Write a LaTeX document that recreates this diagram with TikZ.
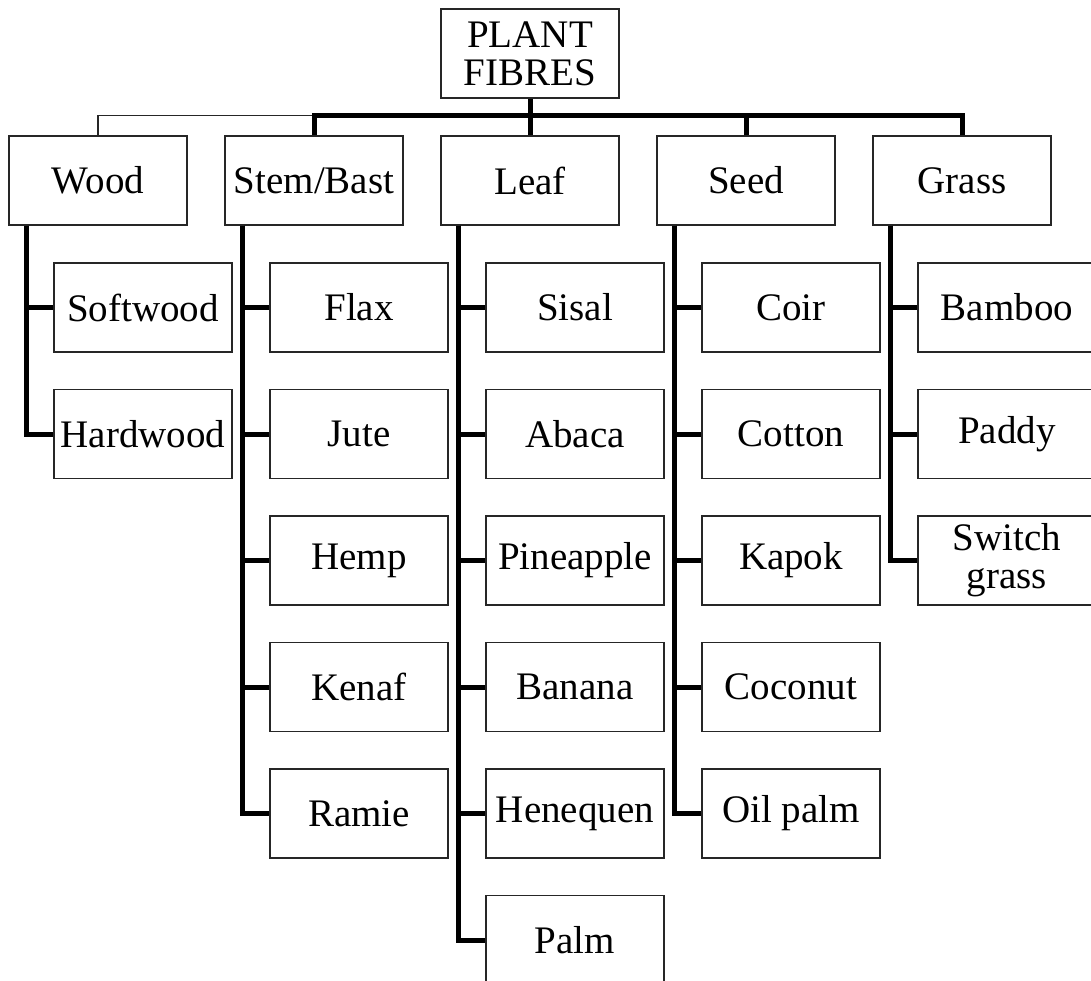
\documentclass[tikz,border=0pt]{standalone}
\usepackage{fontspec}
\setmainfont{Liberation Serif}
\usetikzlibrary{calc}
\begin{document}
\begin{tikzpicture}[x=1pt,y=-1pt,
  box/.style={draw=black!85, line width=1.4pt, minimum width=178pt, minimum height=89pt, inner sep=0pt, align=center,
    font=\fontsize{39}{38}\selectfont},
  trunk/.style={line width=5pt, black},
  thin/.style={line width=1.4pt, black!85}]
\useasboundingbox (0,0) rectangle (1091,980);
% root
\node[box] (root) at (530,53.5) {PLANT\\FIBRES};
% categories
\node[box] (wood) at (98,180.5) {Wood};
\node[box] (stem) at (314,180.5) {Stem/Bast};
\node[box] (leaf) at (530,180.5) {Leaf};
\node[box] (seed) at (746,180.5) {Seed};
\node[box] (grass) at (962,180.5) {Grass};
% children
\node[box] (softwood) at (143,307.5) {Softwood};
\node[box] (hardwood) at (143,434) {Hardwood};
\node[box] (flax) at (359,307.5) {Flax};
\node[box] (jute) at (359,434) {Jute};
\node[box] (hemp) at (359,560.5) {Hemp};
\node[box] (kenaf) at (359,687) {Kenaf};
\node[box] (ramie) at (359,813.5) {Ramie};
\node[box] (sisal) at (575,307.5) {Sisal};
\node[box] (abaca) at (575,434) {Abaca};
\node[box] (pineapple) at (575,560.5) {Pineapple};
\node[box] (banana) at (575,687) {Banana};
\node[box] (henequen) at (575,813.5) {Henequen};
\node[box] (palm) at (575,940) {Palm};
\node[box] (coir) at (791,307.5) {Coir};
\node[box] (cotton) at (791,434) {Cotton};
\node[box] (kapok) at (791,560.5) {Kapok};
\node[box] (coconut) at (791,687) {Coconut};
\node[box] (oilpalm) at (791,813.5) {Oil palm};
\node[box] (bamboo) at (1007,307.5) {Bamboo};
\node[box] (paddy) at (1007,434) {Paddy};
\node[box] (switch) at (1007,560.5) {Switch\\grass};
% top connectors
\draw[thin] (stem.north) ++(0,-20) -| (wood.north);
\draw[trunk] (stem.north) -- ++(0,-20) -| (grass.north);
\draw[trunk] (root.south) -- (leaf.north);
\draw[trunk] (seed.north) -- ++(0,-20);
% branches
\foreach \c in {softwood,hardwood}
  \draw[trunk] ([xshift=18pt]wood.south west) |- (\c.west);
\foreach \c in {flax,jute,hemp,kenaf,ramie}
  \draw[trunk] ([xshift=18pt]stem.south west) |- (\c.west);
\foreach \c in {sisal,abaca,pineapple,banana,henequen,palm}
  \draw[trunk] ([xshift=18pt]leaf.south west) |- (\c.west);
\foreach \c in {coir,cotton,kapok,coconut,oilpalm}
  \draw[trunk] ([xshift=18pt]seed.south west) |- (\c.west);
\foreach \c in {bamboo,paddy,switch}
  \draw[trunk] ([xshift=18pt]grass.south west) |- (\c.west);
\end{tikzpicture}
\end{document}
